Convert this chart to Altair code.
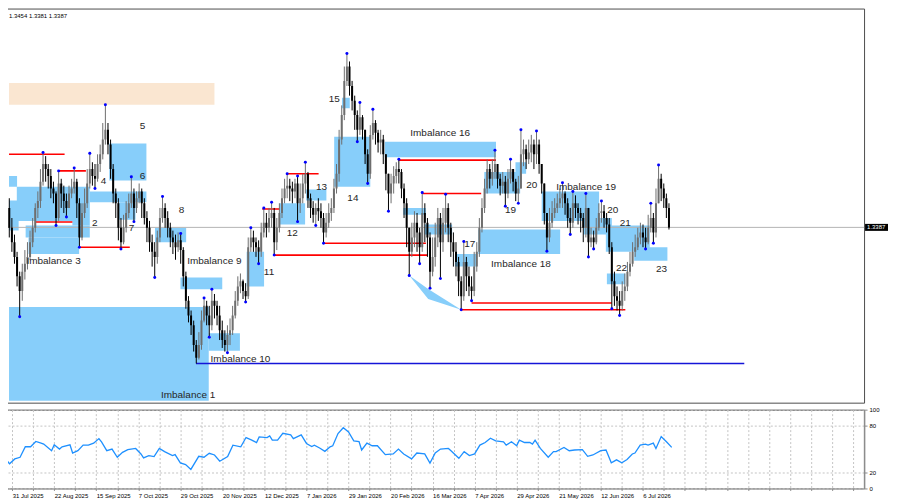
import json
import altair as alt
import pandas as pd

# ---------------- layout ----------------
W, H1, H2 = 862, 395, 79
X_DOM = [-3.11, 324.2]
P_DOM = [1.2900, 1.3995]
FONT = "Liberation Sans"
SKY = "#87CEFA"

# ---------------- daily candles (bar index, 0 = 31 Jul 2025) ----------------
first_open = 1.3441
close = [
    1.3386, 1.3346, 1.3305, 1.3251, 1.3210, 1.3264, 1.3286, 1.3305, 1.3346, 1.3386,
    1.3441, 1.3460, 1.3514, 1.3563, 1.3549, 1.3530, 1.3495, 1.3481, 1.3413, 1.3509,
    1.3481, 1.3460, 1.3441, 1.3481, 1.3495, 1.3514, 1.3454, 1.3359, 1.3427, 1.3454,
    1.3509, 1.3549, 1.3530, 1.3522, 1.3563, 1.3590, 1.3631, 1.3658, 1.3617, 1.3549,
    1.3481, 1.3454, 1.3386, 1.3346, 1.3386, 1.3427, 1.3454, 1.3481, 1.3441, 1.3468,
    1.3487, 1.3454, 1.3413, 1.3386, 1.3346, 1.3319, 1.3305, 1.3359, 1.3413, 1.3441,
    1.3413, 1.3386, 1.3359, 1.3346, 1.3332, 1.3351, 1.3324, 1.3251, 1.3183, 1.3142,
    1.3115, 1.3060, 1.3025, 1.3060, 1.3128, 1.3169, 1.3142, 1.3115, 1.3183, 1.3169,
    1.3142, 1.3101, 1.3074, 1.3060, 1.3088, 1.3101, 1.3142, 1.3183, 1.3223, 1.3237,
    1.3210, 1.3196, 1.3332, 1.3359, 1.3346, 1.3332, 1.3319, 1.3373, 1.3400, 1.3386,
    1.3413, 1.3427, 1.3346, 1.3386, 1.3427, 1.3468, 1.3495, 1.3503, 1.3495, 1.3487,
    1.3509, 1.3454, 1.3468, 1.3509, 1.3536, 1.3468, 1.3441, 1.3422, 1.3441, 1.3432,
    1.3413, 1.3373, 1.3400, 1.3427, 1.3441, 1.3495, 1.3536, 1.3631, 1.3699, 1.3794,
    1.3834, 1.3780, 1.3739, 1.3699, 1.3658, 1.3693, 1.3658, 1.3590, 1.3536, 1.3644,
    1.3677, 1.3650, 1.3623, 1.3631, 1.3590, 1.3536, 1.3481, 1.3509, 1.3530, 1.3549,
    1.3541, 1.3495, 1.3454, 1.3386, 1.3319, 1.3359, 1.3400, 1.3373, 1.3332, 1.3427,
    1.3400, 1.3359, 1.3264, 1.3305, 1.3359, 1.3413, 1.3346, 1.3400, 1.3441, 1.3386,
    1.3346, 1.3319, 1.3291, 1.3237, 1.3196, 1.3291, 1.3251, 1.3223, 1.3210, 1.3278,
    1.3319, 1.3386, 1.3441, 1.3495, 1.3549, 1.3522, 1.3541, 1.3563, 1.3522, 1.3503,
    1.3514, 1.3481, 1.3522, 1.3549, 1.3514, 1.3481, 1.3495, 1.3590, 1.3604, 1.3576,
    1.3595, 1.3617, 1.3590, 1.3617, 1.3563, 1.3509, 1.3427, 1.3359, 1.3400, 1.3427,
    1.3441, 1.3454, 1.3468, 1.3481, 1.3454, 1.3413, 1.3400, 1.3454, 1.3441, 1.3427,
    1.3413, 1.3386, 1.3441, 1.3346, 1.3359, 1.3346, 1.3386, 1.3427, 1.3432, 1.3413,
    1.3395, 1.3332, 1.3237, 1.3196, 1.3183, 1.3169, 1.3210, 1.3223, 1.3264, 1.3286,
    1.3319, 1.3332, 1.3359, 1.3373, 1.3359, 1.3346, 1.3386, 1.3413, 1.3373, 1.3454,
    1.3522, 1.3495, 1.3468, 1.3441, 1.3387,
]
high = [
    1.3468, 1.3413, 1.3367, 1.3319, 1.3264, 1.3286, 1.3324, 1.3346, 1.3378, 1.3413,
    1.3454, 1.3487, 1.3549, 1.3595, 1.3585, 1.3563, 1.3549, 1.3514, 1.3487, 1.3544,
    1.3522, 1.3503, 1.3481, 1.3503, 1.3522, 1.3552, 1.3522, 1.3468, 1.3454, 1.3495,
    1.3549, 1.3593, 1.3568, 1.3563, 1.3590, 1.3617, 1.3677, 1.3728, 1.3677, 1.3631,
    1.3563, 1.3495, 1.3468, 1.3413, 1.3422, 1.3460, 1.3481, 1.3528, 1.3495, 1.3487,
    1.3509, 1.3495, 1.3468, 1.3432, 1.3405, 1.3367, 1.3346, 1.3378, 1.3441, 1.3473,
    1.3454, 1.3432, 1.3400, 1.3378, 1.3367, 1.3373, 1.3370, 1.3332, 1.3264, 1.3196,
    1.3156, 1.3128, 1.3074, 1.3096, 1.3156, 1.3191, 1.3183, 1.3169, 1.3215, 1.3202,
    1.3183, 1.3169, 1.3128, 1.3101, 1.3115, 1.3134, 1.3169, 1.3210, 1.3251, 1.3259,
    1.3242, 1.3232, 1.3359, 1.3386, 1.3378, 1.3359, 1.3351, 1.3400, 1.3441, 1.3427,
    1.3441, 1.3457, 1.3441, 1.3413, 1.3454, 1.3495, 1.3522, 1.3536, 1.3522, 1.3514,
    1.3522, 1.3530, 1.3509, 1.3536, 1.3568, 1.3541, 1.3481, 1.3460, 1.3454, 1.3468,
    1.3454, 1.3427, 1.3427, 1.3454, 1.3468, 1.3522, 1.3563, 1.3658, 1.3726, 1.3834,
    1.3870, 1.3848, 1.3794, 1.3753, 1.3712, 1.3734, 1.3699, 1.3658, 1.3604, 1.3671,
    1.3715, 1.3685, 1.3658, 1.3658, 1.3644, 1.3590, 1.3536, 1.3536, 1.3557, 1.3568,
    1.3576, 1.3549, 1.3509, 1.3468, 1.3386, 1.3400, 1.3432, 1.3427, 1.3386, 1.3484,
    1.3454, 1.3413, 1.3373, 1.3359, 1.3400, 1.3441, 1.3427, 1.3441, 1.3479, 1.3454,
    1.3400, 1.3373, 1.3346, 1.3305, 1.3251, 1.3348, 1.3305, 1.3278, 1.3251, 1.3319,
    1.3346, 1.3413, 1.3468, 1.3522, 1.3576, 1.3563, 1.3576, 1.3601, 1.3563, 1.3536,
    1.3541, 1.3530, 1.3549, 1.3576, 1.3549, 1.3522, 1.3530, 1.3658, 1.3631, 1.3617,
    1.3631, 1.3644, 1.3631, 1.3655, 1.3631, 1.3563, 1.3509, 1.3427, 1.3441, 1.3460,
    1.3468, 1.3481, 1.3495, 1.3511, 1.3487, 1.3468, 1.3441, 1.3487, 1.3476, 1.3454,
    1.3441, 1.3427, 1.3481, 1.3441, 1.3386, 1.3378, 1.3413, 1.3454, 1.3460, 1.3449,
    1.3427, 1.3413, 1.3346, 1.3264, 1.3223, 1.3210, 1.3237, 1.3259, 1.3291, 1.3319,
    1.3346, 1.3367, 1.3386, 1.3400, 1.3395, 1.3386, 1.3422, 1.3454, 1.3427, 1.3495,
    1.3560, 1.3536, 1.3509, 1.3481, 1.3454,
]
low = [
    1.3359, 1.3319, 1.3286, 1.3223, 1.3139, 1.3183, 1.3242, 1.3270, 1.3297, 1.3332,
    1.3373, 1.3413, 1.3441, 1.3503, 1.3514, 1.3495, 1.3468, 1.3454, 1.3392, 1.3405,
    1.3441, 1.3427, 1.3416, 1.3441, 1.3468, 1.3481, 1.3413, 1.3332, 1.3351, 1.3413,
    1.3441, 1.3495, 1.3503, 1.3495, 1.3514, 1.3541, 1.3576, 1.3617, 1.3590, 1.3522,
    1.3454, 1.3413, 1.3351, 1.3327, 1.3340, 1.3373, 1.3413, 1.3441, 1.3403, 1.3427,
    1.3454, 1.3413, 1.3395, 1.3346, 1.3319, 1.3278, 1.3248, 1.3286, 1.3346, 1.3400,
    1.3386, 1.3359, 1.3332, 1.3313, 1.3297, 1.3319, 1.3286, 1.3223, 1.3161, 1.3123,
    1.3088, 1.3042, 1.3009, 1.3020, 1.3047, 1.3123, 1.3115, 1.3082, 1.3101, 1.3134,
    1.3115, 1.3074, 1.3052, 1.3042, 1.3039, 1.3060, 1.3088, 1.3134, 1.3169, 1.3204,
    1.3188, 1.3180, 1.3188, 1.3319, 1.3319, 1.3305, 1.3286, 1.3305, 1.3359, 1.3359,
    1.3373, 1.3386, 1.3310, 1.3324, 1.3373, 1.3413, 1.3454, 1.3468, 1.3460, 1.3454,
    1.3468, 1.3403, 1.3427, 1.3454, 1.3481, 1.3441, 1.3413, 1.3400, 1.3392, 1.3405,
    1.3386, 1.3343, 1.3359, 1.3386, 1.3405, 1.3427, 1.3481, 1.3514, 1.3617, 1.3685,
    1.3780, 1.3753, 1.3712, 1.3658, 1.3625, 1.3644, 1.3631, 1.3563, 1.3509, 1.3522,
    1.3631, 1.3617, 1.3595, 1.3590, 1.3563, 1.3490, 1.3432, 1.3454, 1.3481, 1.3509,
    1.3509, 1.3468, 1.3413, 1.3332, 1.3253, 1.3305, 1.3332, 1.3319, 1.3286, 1.3319,
    1.3346, 1.3305, 1.3218, 1.3251, 1.3278, 1.3332, 1.3245, 1.3319, 1.3373, 1.3346,
    1.3305, 1.3278, 1.3251, 1.3196, 1.3158, 1.3183, 1.3210, 1.3196, 1.3183, 1.3196,
    1.3264, 1.3305, 1.3373, 1.3427, 1.3481, 1.3495, 1.3503, 1.3522, 1.3495, 1.3476,
    1.3481, 1.3446, 1.3468, 1.3509, 1.3487, 1.3460, 1.3454, 1.3495, 1.3557, 1.3549,
    1.3563, 1.3568, 1.3549, 1.3563, 1.3536, 1.3481, 1.3395, 1.3321, 1.3346, 1.3386,
    1.3413, 1.3427, 1.3441, 1.3441, 1.3422, 1.3386, 1.3367, 1.3386, 1.3413, 1.3395,
    1.3373, 1.3346, 1.3359, 1.3305, 1.3332, 1.3327, 1.3340, 1.3378, 1.3400, 1.3386,
    1.3373, 1.3313, 1.3161, 1.3169, 1.3156, 1.3142, 1.3156, 1.3183, 1.3210, 1.3251,
    1.3278, 1.3305, 1.3324, 1.3340, 1.3332, 1.3327, 1.3340, 1.3373, 1.3343, 1.3359,
    1.3454, 1.3460, 1.3441, 1.3413, 1.3381,
]
bars = list(range(-3, 252))
assert len(close) == len(high) == len(low) == len(bars)
opens = [first_open] + close[:-1]   # FX daily open = previous close

# fractal markers (bar indices)
high_dot_bars = [10, 16, 22, 28, 34, 44, 56, 63, 72, 75, 90, 95, 98, 104, 108, 111, 127,
                 132, 137, 147, 156, 165, 172, 184, 190, 194, 200, 210, 214, 219, 225, 244, 247]
low_dot_bars = [1, 15, 19, 24, 30, 40, 45, 53, 74, 81, 88, 93, 99, 108, 115, 118, 131, 135,
                143, 151, 155, 159, 163, 171, 175, 188, 193, 204, 213, 220, 222, 229, 232, 242, 245]

# oscillator (lower panel)
osc_bars = [-3, -1, 1, 3, 5, 7, 9, 11, 12, 15, 16, 18, 19, 22, 23, 25, 27, 29, 31, 33, 34, 36,
            38, 40, 42, 44, 47, 49, 50, 52, 54, 56, 58, 61, 62, 64, 66, 68, 71, 73, 75, 77, 79,
            82, 84, 87, 89, 91, 93, 94, 97, 98, 99, 101, 103, 106, 107, 110, 112, 114, 115, 117,
            119, 121, 122, 124, 126, 128, 130, 132, 133, 135, 137, 139, 142, 145, 147, 149, 152,
            154, 157, 159, 161, 163, 166, 167, 170, 172, 174, 176, 178, 180, 182, 184, 187, 188,
            190, 192, 193, 195, 197, 198, 199, 201, 204, 206, 207, 210, 212, 214, 217, 219, 221,
            224, 226, 228, 230, 232, 234, 236, 237, 239, 241, 242, 244, 245, 247, 249, 251]
osc_vals = [39.6, 31.3, 37.5, 39.6, 52.9, 52.9, 59.6, 57.5, 56.3, 47.9, 55.4, 50.0, 52.9, 55.4,
            45.0, 48.0, 55.0, 55.0, 57.5, 63.3, 59.0, 48.0, 50.0, 39.6, 45.8, 49.2, 50.8, 43.8,
            38.8, 41.7, 40.4, 50.8, 46.7, 41.7, 43.0, 32.5, 30.4, 24.2, 40.8, 39.6, 44.6, 42.5,
            34.6, 40.4, 55.0, 52.9, 64.6, 61.7, 58.3, 65.4, 64.6, 66.7, 61.3, 61.3, 70.0, 67.9,
            63.3, 67.9, 57.1, 53.3, 55.0, 51.3, 47.1, 52.9, 54.2, 69.6, 77.1, 71.7, 60.4, 59.6,
            48.8, 57.5, 54.2, 54.2, 43.0, 43.8, 50.0, 43.8, 37.5, 45.0, 43.8, 32.1, 45.0, 50.0,
            50.8, 47.9, 38.3, 46.7, 41.7, 43.8, 55.0, 58.3, 63.8, 60.4, 59.2, 55.0, 59.2, 54.2,
            61.3, 58.3, 58.3, 56.3, 61.3, 50.8, 39.6, 46.7, 46.7, 52.1, 47.9, 48.8, 49.2, 40.8,
            42.5, 47.9, 48.8, 32.5, 36.3, 32.5, 36.7, 43.8, 45.0, 55.0, 56.3, 55.0, 57.5, 50.8,
            65.8, 59.2, 52.1]
assert len(osc_bars) == len(osc_vals)

# ---------------- drawn objects ----------------
zone_x0 = [-3.1, 73.8, 62.9, 53.1, 88.4, 35.5, 28.0, 39.3, -3.1, -3.1, -0.1, 3.3, 21.3, 4.4,
           111.3, 101.1, 122.1, 125.1, 141.6, 148.7, 157.0, 168.6, 177.6, 179.9, 191.9, 202.0,
           218.1, 226.7, 237.6, 227.1]
zone_x1 = [73.8, 85.8, 79.0, 65.1, 95.1, 49.8, 49.8, 45.6, 0.0, 0.6, 28.0, 28.0, 28.0, 23.9,
           119.1, 110.9, 136.0, 128.1, 184.4, 157.4, 167.5, 176.9, 209.1, 193.7, 196.0, 224.1,
           229.0, 243.6, 250.4, 234.2]
zone_p0 = [1.3166, 1.3093, 1.3248, 1.3386, 1.3319, 1.3620, 1.3487, 1.3457, 1.3530, 1.3462,
           1.3500, 1.3392, 1.3405, 1.3359, 1.3492, 1.3454, 1.3639, 1.3747, 1.3625, 1.3441,
           1.3395, 1.3313, 1.3381, 1.3541, 1.3568, 1.3487, 1.3413, 1.3392, 1.3332, 1.3259]
zone_p1 = [1.2905, 1.3044, 1.3215, 1.3346, 1.3223, 1.3517, 1.3457, 1.3408, 1.3500, 1.3378,
           1.3405, 1.3359, 1.3392, 1.3313, 1.3462, 1.3395, 1.3500, 1.3718, 1.3582, 1.3422,
           1.3367, 1.3278, 1.3313, 1.3481, 1.3536, 1.3405, 1.3367, 1.3319, 1.3294, 1.3229]

supply_x = [-3.1, 76.0]
supply_p = [1.3788, 1.3728]

tri_bar = [151.0, 158.3, 171.0]
tri_top = [1.3253, 1.3216, 1.3158]
tri_bot = [1.3253, 1.3188, 1.3158]

red_x0 = [-3.1, 16.0, 7.0, 23.9, 94.4, 103.8, 118.0, 98.9, 146.9, 156.2, 175.0, 171.3]
red_x1 = [18.3, 26.5, 21.3, 43.4, 101.1, 116.1, 157.4, 158.1, 184.4, 178.7, 229.0, 234.2]
red_p = [1.3590, 1.3544, 1.3402, 1.3332, 1.3438, 1.3536, 1.3343, 1.3310, 1.3574, 1.3481,
         1.3177, 1.3158]

blue_x = [68.9, 280.0]
blue_p = 1.3009

num_text = ["5", "6", "4", "2", "7", "8", "11", "12", "13", "14", "15", "17", "19", "20",
            "20", "21", "22", "23"]
num_bar = [48.3, 48.3, 33.3, 29.9, 44.1, 63.3, 97.0, 106.0, 117.2, 129.3, 122.1, 174.3, 190.0,
           198.2, 229.4, 234.2, 232.7, 248.1]
num_p = [1.3669, 1.3530, 1.3517, 1.3400, 1.3384, 1.3435, 1.3264, 1.3370, 1.3500, 1.3470,
         1.3745, 1.3340, 1.3435, 1.3506, 1.3435, 1.3400, 1.3275, 1.3270]

imb_text = ["Imbalance 3", "Imbalance 9", "Imbalance 10", "Imbalance 1", "Imbalance 16",
            "Imbalance 18", "Imbalance 19"]
imb_bar = [3.6, 65.5, 74.5, 55.4, 151.4, 182.5, 207.6]
imb_p = [1.3294, 1.3294, 1.3020, 1.2922, 1.3650, 1.3286, 1.3498]

price_ticks = [1.3985, 1.3925, 1.3865, 1.3805, 1.3745, 1.3685, 1.3625, 1.3565, 1.3505,
               1.3445, 1.3385, 1.3325, 1.3265, 1.3205, 1.3145, 1.3085, 1.3025, 1.2965, 1.2905]
date_bars = [0, 16, 32, 48, 64, 80, 96, 112, 128, 144, 160, 176, 192, 208, 224, 240]
date_labels = ["31 Jul 2025", "22 Aug 2025", "15 Sep 2025", "7 Oct 2025", "29 Oct 2025",
               "20 Nov 2025", "12 Dec 2025", "7 Jan 2026", "29 Jan 2026", "20 Feb 2026",
               "16 Mar 2026", "7 Apr 2026", "29 Apr 2026", "21 May 2026", "12 Jun 2026",
               "6 Jul 2026"]
grid_bars = list(range(0, 321, 8))
osc_ticks = [0, 20, 80, 100]

# ---------------- frames ----------------
candles = pd.DataFrame({"bar": bars, "open": opens, "high": high, "low": low, "close": close})
candles["dir"] = ["up" if c >= o else "down" for o, c in zip(opens, close)]
dots = pd.DataFrame({
    "bar": high_dot_bars + low_dot_bars,
    "p": [high[b + 3] for b in high_dot_bars] + [low[b + 3] for b in low_dot_bars],
})
zones = pd.DataFrame({"x0": zone_x0, "x1": zone_x1, "p0": zone_p0, "p1": zone_p1})
supply = pd.DataFrame({"x0": [supply_x[0]], "x1": [supply_x[1]], "p0": [supply_p[0]], "p1": [supply_p[1]]})
tri = pd.DataFrame({"bar": tri_bar, "top": tri_top, "bot": tri_bot})
reds = pd.DataFrame({"x0": red_x0, "x1": red_x1, "p": red_p})
blues = pd.DataFrame({"x0": [blue_x[0]], "x1": [blue_x[1]], "p": [blue_p]})
nums = pd.DataFrame({"bar": num_bar, "p": num_p, "t": num_text})
imbs = pd.DataFrame({"bar": imb_bar, "p": imb_p, "t": imb_text})
last = pd.DataFrame({"p": [close[-1]], "t": [f"{close[-1]:.4f}"],
                     "hdr": [f"{high[-1]:.4f} {low[-1]:.4f} {close[-1]:.4f}"]})
osc = pd.DataFrame({"bar": osc_bars, "v": osc_vals})

xs = alt.Scale(domain=X_DOM, nice=False, zero=False)
ps = alt.Scale(domain=P_DOM, nice=False, zero=False)

GRID = dict(grid=True, gridColor="#c4c4c4", gridDash=[2, 2], gridWidth=1)

x_price_axis = alt.Axis(values=grid_bars, labels=False, ticks=False, domain=False, title=None, **GRID)
p_axis = alt.Axis(orient="right", values=price_ticks, title=None, tickSize=3,
                  labelExpr="abs(datum.value - 1.3385) < 0.00005 ? '' : format(datum.value, '.4f')",
                  labelFontSize=6, labelPadding=2, domain=True, domainColor="#8c8c8c",
                  domainWidth=1.5, **GRID)

def X(field, axis=None):
    return alt.X(f"{field}:Q", scale=xs, axis=axis)

def P(field, axis=None):
    return alt.Y(f"{field}:Q", scale=ps, axis=axis)

wick_color = alt.Color("dir:N", scale=alt.Scale(domain=["up", "down"], range=["#6e6e6e", "#000000"]), legend=None)
body_color = alt.Color("dir:N", scale=alt.Scale(domain=["up", "down"], range=["#a2a2a2", "#000000"]), legend=None)

supply_layer = alt.Chart(supply).mark_rect(color="#FAE6D1", clip=True).encode(
    x=X("x0", x_price_axis), x2="x1", y=P("p0", p_axis), y2="p1")
zone_layer = alt.Chart(zones).mark_rect(color=SKY, clip=True).encode(
    x=X("x0"), x2="x1", y=P("p0"), y2="p1")
tri_layer = alt.Chart(tri).mark_area(color=SKY, opacity=1).encode(
    x=X("bar"), y=P("top"), y2="bot")
last_line = alt.Chart(last).mark_rule(color="#b4b4b4", strokeWidth=1).encode(y=P("p"))
red_layer = alt.Chart(reds).mark_rule(color="#ff0000", strokeWidth=1.6, clip=True).encode(
    x=X("x0"), x2="x1", y=P("p"))
blue_layer = alt.Chart(blues).mark_rule(color="#1515d8", strokeWidth=1.6).encode(
    x=X("x0"), x2="x1", y=P("p"))
wick_layer = alt.Chart(candles).mark_rule(strokeWidth=1, clip=True).encode(
    x=X("bar"), y=P("low"), y2="high", color=wick_color)
body_layer = alt.Chart(candles).mark_bar(size=2, clip=True).encode(
    x=X("bar"), y=P("open"), y2="close", color=body_color)
dot_layer = alt.Chart(dots).mark_circle(size=9, color="#0000ff", opacity=1).encode(
    x=X("bar"), y=P("p"))
num_layer = alt.Chart(nums).mark_text(font=FONT, fontSize=10, color="#262626",
                                      align="center", baseline="middle").encode(
    x=X("bar"), y=P("p"), text="t:N")
imb_layer = alt.Chart(imbs).mark_text(font=FONT, fontSize=10, color="#262626",
                                      align="left", baseline="middle").encode(
    x=X("bar"), y=P("p"), text="t:N")
hdr_layer = alt.Chart(last).mark_text(font=FONT, fontSize=6, color="#000", align="left",
                                      baseline="middle").encode(
    x=alt.value(5), y=alt.value(7), text="hdr:N")
box_layer = alt.Chart(last).mark_rule(color="#000", strokeWidth=7).encode(
    x=alt.value(W + 1), x2=alt.value(W + 24), y=P("p"))
box_text = alt.Chart(last).mark_text(font=FONT, fontSize=6, color="#fff", align="left",
                                     baseline="middle").encode(
    x=alt.value(W + 3), y=P("p"), text="t:N")

price = alt.layer(
    supply_layer, zone_layer, tri_layer, last_line, red_layer, blue_layer,
    wick_layer, body_layer, dot_layer, num_layer, imb_layer, hdr_layer, box_layer, box_text,
).properties(width=W, height=H1)

x_osc_axis = alt.Axis(
    values=grid_bars, title=None, tickSize=2, labelAlign="left", labelPadding=2,
    labelFontSize=6, labelOverlap=False, labelFlush=False, domain=False,
    labelExpr=(f"indexof({json.dumps(date_bars)}, datum.value) >= 0 ? "
               f"{json.dumps(date_labels)}[indexof({json.dumps(date_bars)}, datum.value)] : ''"),
    **GRID)
y_osc_axis = alt.Axis(orient="right", values=osc_ticks, title=None, tickSize=3,
                      labelFontSize=6, labelPadding=2, domainColor="#8c8c8c",
                      domainWidth=1.5, **GRID)

oscillator = alt.Chart(osc).mark_line(color="#1e90ff", strokeWidth=1.3).encode(
    x=alt.X("bar:Q", scale=xs, axis=x_osc_axis),
    y=alt.Y("v:Q", scale=alt.Scale(domain=[0, 100], nice=False), axis=y_osc_axis),
).properties(width=W, height=H2)

chart = alt.vconcat(price, oscillator, spacing=2).properties(
    padding={"left": -7, "top": -1, "right": 0, "bottom": 0}, background="white"
).configure_view(stroke="#4d4d4d", strokeWidth=1).configure_axis(
    labelFont=FONT, labelColor="#000", tickColor="#8c8c8c"
)

chart.save("out.html", embed_options={"renderer": "svg", "actions": False})
